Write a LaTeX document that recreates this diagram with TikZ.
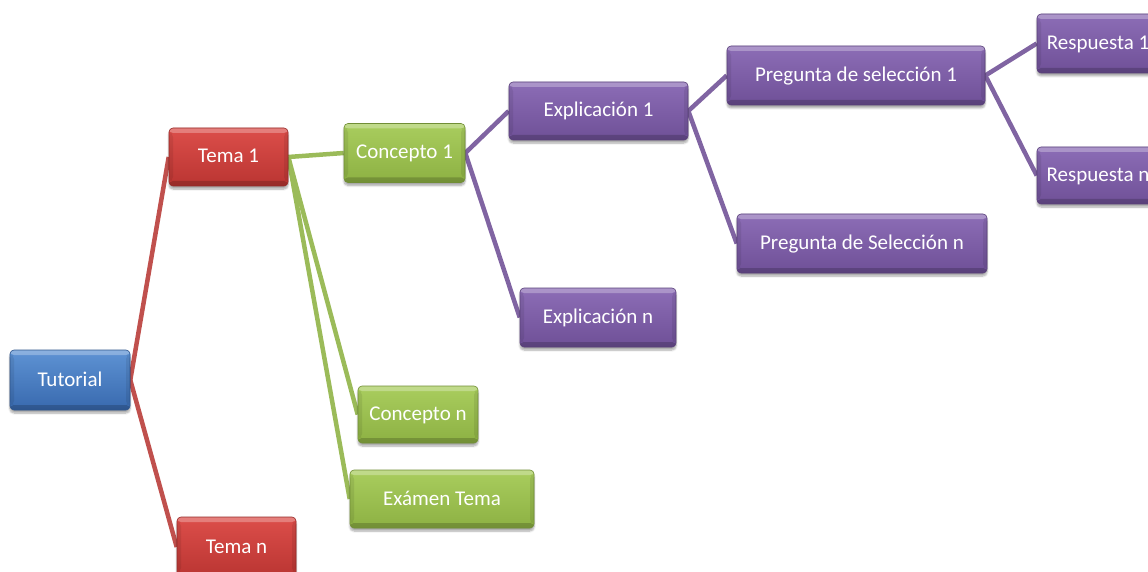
\documentclass[tikz,border=0pt]{standalone}
\usepackage{fontspec}
\setmainfont{Carlito}
\usetikzlibrary{shadows.blur,backgrounds}

\definecolor{bluetop}{HTML}{5E93D4}
\definecolor{bluemid}{HTML}{4A7FC4}
\definecolor{bluebot}{HTML}{3869AE}
\definecolor{redtop}{HTML}{DC4E4A}
\definecolor{redmid}{HTML}{CF413D}
\definecolor{redbot}{HTML}{BA3532}
\definecolor{greentop}{HTML}{A9CD5E}
\definecolor{greenmid}{HTML}{9CC14E}
\definecolor{greenbot}{HTML}{8DB143}
\definecolor{purptop}{HTML}{8C6DB6}
\definecolor{purpmid}{HTML}{7E5EA8}
\definecolor{purpbot}{HTML}{6F5097}
\definecolor{redline}{HTML}{C0504D}
\definecolor{greenline}{HTML}{9BBB59}
\definecolor{purpline}{HTML}{8064A2}

\tikzset{
  bevel/.style={path picture={
    \fill[white, opacity=0.28] (path picture bounding box.north west) rectangle ([yshift=-5pt]path picture bounding box.north east);
    \fill[black, opacity=0.18] (path picture bounding box.south west) rectangle ([yshift=5pt]path picture bounding box.south east);
    \fill[black, opacity=0.08] ([yshift=-5pt]path picture bounding box.north west) rectangle ([xshift=4pt,yshift=5pt]path picture bounding box.south west);
    \fill[black, opacity=0.08] ([yshift=-5pt]path picture bounding box.north east) rectangle ([xshift=-4pt,yshift=5pt]path picture bounding box.south east);
  }},
  box/.style={rounded corners=4pt, minimum height=59pt, inner sep=0pt,
    text height=15pt, text depth=3pt,
    text=white, font=\fontsize{21}{24}\selectfont, bevel,
    blur shadow={shadow xshift=0pt, shadow yshift=-3pt, shadow blur steps=6, shadow opacity=35}},
  bluebox/.style={box, top color=bluetop, middle color=bluemid, bottom color=bluebot, draw=bluebot!80!black, line width=0.6pt},
  redbox/.style={box, top color=redtop, middle color=redmid, bottom color=redbot, draw=redbot!80!black, line width=0.6pt},
  greenbox/.style={box, top color=greentop, middle color=greenmid, bottom color=greenbot, draw=greenbot!80!black, line width=0.6pt},
  purpbox/.style={box, top color=purptop, middle color=purpmid, bottom color=purpbot, draw=purpbot!80!black, line width=0.6pt},
  link/.style={line width=4.5pt, line join=round},
  redlink/.style={link, draw=redline},
  greenlink/.style={link, draw=greenline},
  purplink/.style={link, draw=purpline},
}

\begin{document}
\begin{tikzpicture}[x=1pt, y=-1pt]
\useasboundingbox (0,0) rectangle (1148,572);
\clip (0,0) rectangle (1148,572);

% root
\node[bluebox, minimum width=120pt, minimum height=60pt] (tut) at (70,380) {Tutorial};

% topics
\node[redbox, minimum width=119pt, minimum height=58pt] (tema1) at (228.5,157) {Tema 1};
\node[redbox, minimum width=119pt, minimum height=60pt] (teman) at (236.5,547) {Tema n};

% concepts and exam
\node[greenbox, minimum width=121pt] (conc1) at (404.5,153) {Concepto 1};
\node[greenbox, minimum width=120pt, minimum height=57pt] (concn) at (418,414.5) {Concepto n};
\node[greenbox, minimum width=184pt, minimum height=58pt] (exam) at (442,499) {Exámen Tema};

% explanations
\node[purpbox, minimum width=179pt, minimum height=58pt] (expl1) at (598.5,111) {Explicación 1};
\node[purpbox, minimum width=156pt] (expln) at (598,317.5) {Explicación n};

% questions
\node[purpbox, minimum width=258pt] (preg1) at (856,75.5) {Pregunta de selección 1};
\node[purpbox, minimum width=250pt] (pregn) at (862,243.5) {Pregunta de Selección n};

% answers
\node[purpbox, minimum width=122pt] (resp1) at (1098,43.5) {Respuesta 1};
\node[purpbox, minimum width=122pt, minimum height=57pt] (respn) at (1098,175.5) {Respuesta n};

\begin{scope}[on background layer]
  \draw[redlink] (tut.east) -- (tema1.west);
  \draw[redlink] (tut.east) -- (teman.west);
  \draw[greenlink] (tema1.east) -- (conc1.west);
  \draw[greenlink] (tema1.east) -- (concn.west);
  \draw[greenlink] (tema1.east) -- (exam.west);
  \draw[purplink] (conc1.east) -- (expl1.west);
  \draw[purplink] (conc1.east) -- (expln.west);
  \draw[purplink] (expl1.east) -- (preg1.west);
  \draw[purplink] (expl1.east) -- (pregn.west);
  \draw[purplink] (preg1.east) -- (resp1.west);
  \draw[purplink] (preg1.east) -- (respn.west);
\end{scope}
\end{tikzpicture}
\end{document}
